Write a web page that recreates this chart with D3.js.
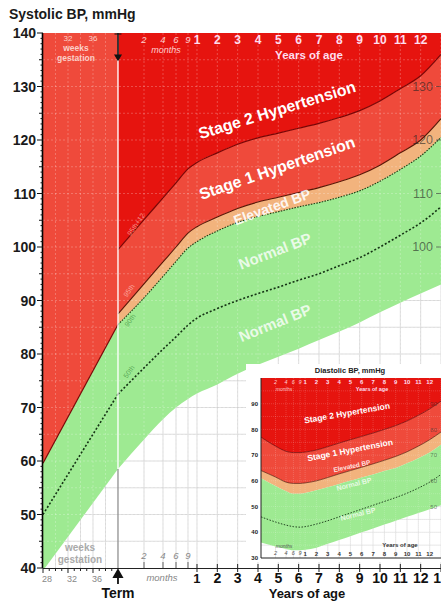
<!DOCTYPE html>
<html><head><meta charset="utf-8">
<script src="https://cdn.jsdelivr.net/npm/d3@7"></script>
<style>body{margin:0;background:#fff}svg{display:block;font-family:"Liberation Sans",Arial,sans-serif}</style>
</head><body><svg id="c" width="441" height="601"></svg>
<script>
// ================= DATA =================
const yTicks = [40,50,60,70,80,90,100,110,120,130,140];
const rightTicks = [100,110,120,130];
const weekLabels = [28,32,36];
const gestWeeks = [28,40];              // weeks gestation → term
const gestUpper = [59.6, 85.5];
const gestMedian = [50, 72.5];
const gestLower = [39.5, 58.5];
// ages after term, in years: term, 2,4,6,9 months, 1..13 years
const ages = [0, 2/12, 4/12, 6/12, 9/12, 1,2,3,4,5,6,7,8,9,10,11,12,13];
const stage2 = [99.5,105.1,109.2,112,114.6,115.8,117.6,119.2,120.4,121.3,122.2,123.1,124.2,125.5,127.3,129.6,132,136];
const p95    = [87.5,93.1,97.2,100,102.6,103.8,105.6,107.2,108.4,109.3,110.2,111.1,112.2,113.5,115.3,117.6,120,124];
const p90    = [85.5,90.5,94.5,97.3,99.8,101,103,104.6,105.7,106.6,107.5,108.3,109.3,110.5,112.3,114.5,117,120.5];
const p50    = [72.5,77.4,80.9,83.2,85.4,86.7,88.5,90,91.3,92.5,93.8,95,96.5,98,100,102.2,104.5,107.5];
const lowerB = [58.5,64,67.8,70,71.6,72.6,74.3,76.3,78,79.5,81,82.6,84.2,85.9,87.8,89.6,91.3,93];
const monthTicks = [2,4,6,9];
const yearTicks = [1,2,3,4,5,6,7,8,9,10,11,12,13];
// inset: diastolic BP
const dTicks = [30,40,50,60,70,80,90];
const dRight = [50,60,70,80,90];
const dStage2 = [77,73.5,71.5,71,71,71.2,72,73.3,74.7,76,77.3,78.6,80,81.5,83.3,85.5,88,91];
const dP95    = [64,61.5,59.5,59,59,59.2,60,61.3,62.7,64,65.3,66.6,68,69.5,71.3,73.5,76,79];
const dP90    = [61,58,56,55,55,55.3,56.3,57.5,58.8,60,61.3,62.5,63.8,65,66.8,68.8,71,74];
const dP50    = [46,44,42.8,42.2,42,42.2,43.2,44.5,46,47.5,49,50.5,52,53.5,55.2,57.2,59.5,62.5];
const dLower  = [36,34.5,33.5,33,33,33.2,34,35.5,37,38.5,40,41.5,43,44.5,46,47.5,49,50.5];

// ================= LAYOUT =================
const C = {s2:"#e6140f", s1:"#ef4a3b", el:"#f2b37d", nm:"#9eea92"};
const svg = d3.select("#c");
const L=43, R=441, T=33, B=568;
const wk = w => (w-40)/52;   // weeks gestation → years after term
const xKnots = [wk(28),0,2/12,4/12,6/12,9/12,1,13];
const xFrac  = [0,.1884,.2538,.3015,.3342,.3643,.3869,1];
const x = d3.scaleLinear().domain(xKnots).range(xFrac.map(f=>L+f*(R-L)));
const y = d3.scaleLinear().domain([40,140]).range([B,T]);

svg.append("clipPath").attr("id","pc").append("rect").attr("x",L).attr("y",T).attr("width",R-L).attr("height",B-T);
const g = svg.append("g").attr("clip-path","url(#pc)");

function grid(sel, color, op, dash){
  const gg = sel.append("g").attr("stroke",color).attr("stroke-opacity",op).attr("stroke-width",0.7).attr("stroke-dasharray",dash);
  d3.range(45,140,5).forEach(v=>gg.append("line").attr("x1",L).attr("x2",R).attr("y1",y(v)).attr("y2",y(v)));
  const xs = [30,32,34,36,38].map(w=>x(wk(w))).concat(monthTicks.map(m=>x(m/12))).concat(yearTicks.map(a=>x(a)));
  xs.forEach(v=>gg.append("line").attr("x1",v).attr("x2",v).attr("y1",T).attr("y2",B));
}
grid(g,"#c8c8c8",1,"none");

const gx = (d,i)=>x(wk(gestWeeks[i]));
const ax = (d,i)=>x(ages[i]);
const mono = d3.curveMonotoneX;
g.append("path").datum(gestUpper).attr("fill",C.s1)
 .attr("d",d3.area().x(gx).y0(y(140)).y1(d=>y(d)));
g.append("path").datum(stage2).attr("fill",C.s2)
 .attr("d",d3.area().x(ax).y0(y(140)).y1(d=>y(d)).curve(mono));
g.append("path").datum(stage2).attr("fill",C.s1)
 .attr("d",d3.area().x(ax).y0((d,i)=>y(p95[i])).y1(d=>y(d)).curve(mono));
g.append("path").datum(p95).attr("fill",C.el)
 .attr("d",d3.area().x(ax).y0((d,i)=>y(p90[i])).y1(d=>y(d)).curve(mono));
g.append("path").datum(p90).attr("fill",C.nm)
 .attr("d",d3.area().x(ax).y0((d,i)=>y(lowerB[i])).y1(d=>y(d)).curve(mono));
g.append("path").datum(gestUpper).attr("fill",C.nm)
 .attr("d",d3.area().x(gx).y0((d,i)=>y(gestLower[i])).y1(d=>y(d)));

const wg = g.append("g");
grid(wg,"#fff",0.35,"2,2");

const lineA = arr => d3.line().x(ax).y(d=>y(d)).curve(mono)(arr);
const lineG = arr => d3.line().x(gx).y(d=>y(d))(arr);
g.append("path").attr("d",lineA(stage2)).attr("fill","none").attr("stroke","#7a0505").attr("stroke-width",1.2);
g.append("path").attr("d",lineA(p95)).attr("fill","none").attr("stroke","#5a1505").attr("stroke-width",1.1);
g.append("path").attr("d",lineA(p90)).attr("fill","none").attr("stroke","#1d3d10").attr("stroke-width",1.1).attr("stroke-dasharray","1.6,1.2");
g.append("path").attr("d",lineG(gestUpper)).attr("fill","none").attr("stroke","#7a0505").attr("stroke-width",1.2);
g.append("path").attr("d",lineA(p50)).attr("fill","none").attr("stroke","#143214").attr("stroke-width",1.6).attr("stroke-dasharray","2,2");
g.append("path").attr("d",lineG(gestMedian)).attr("fill","none").attr("stroke","#143214").attr("stroke-width",1.6).attr("stroke-dasharray","2,2");

g.append("line").attr("x1",x(0)).attr("x2",x(0)).attr("y1",T).attr("y2",y(lowerB[0])).attr("stroke","#fff").attr("stroke-opacity",0.85).attr("stroke-width",1.6);
g.append("line").attr("x1",x(0)).attr("x2",x(0)).attr("y1",y(lowerB[0])).attr("y2",B).attr("stroke","#999").attr("stroke-width",1.4);
const ta = svg.append("g").attr("fill","#111").attr("stroke","#111");
ta.append("line").attr("x1",x(0)).attr("x2",x(0)).attr("y1",T).attr("y2",T+26).attr("stroke-width",1.6);
ta.append("path").attr("d",`M${x(0)-3.5},${T+1}h7M${x(0)-3},${T+22}l3,5l3,-5z`).attr("stroke-width",1.2);

const ann = (t,cx,cy,col,op)=>g.append("text").attr("transform",`translate(${cx},${cy}) rotate(-55)`).attr("font-size",7).attr("fill",col).attr("fill-opacity",op).attr("text-anchor","middle").text(t);
ann("95th+12", x(0)+20, y(stage2[1])+6, "#ffc8c0", .7);
ann("95th", x(0)+13, y(p95[0])-22, "#ffd0c8", .7);
ann("90th", x(0)+14, y(p90[0])-3, "#3a8a3a", .7);
ann("50th", x(0)+13, y(p50[0])-21, "#3a8a3a", .7);

const zl = (t,cx,cy,ang,fs,op)=>g.append("text").attr("transform",`translate(${cx},${cy}) rotate(${ang})`)
  .attr("text-anchor","middle").attr("dy","0.35em").attr("font-weight","bold").attr("font-size",fs)
  .attr("fill","#fff").attr("fill-opacity",op).text(t);
zl("Stage 2 Hypertension",277,110,-17,16,1);
zl("Stage 1 Hypertension",277,168,-19,16,1);
zl("Elevated BP",272,207,-20,14,.9);
zl("Normal BP",275,251,-21,15,.8);
zl("Normal BP",275,323,-22,15,.8);

rightTicks.forEach(v=>{
  svg.append("text").attr("x",433).attr("y",y(v)).attr("dy","0.35em").attr("text-anchor","end").attr("font-size",12.5)
    .attr("fill","#222").attr("fill-opacity",.6).text(v);
  svg.append("line").attr("x1",436).attr("x2",441).attr("y1",y(v)).attr("y2",y(v)).attr("stroke","#333").attr("stroke-opacity",.6);
});

const tl = svg.append("g").attr("fill","#fff").attr("text-anchor","middle");
[32,36].forEach(w=>tl.append("text").attr("x",x(wk(w))).attr("y",40.5).attr("font-size",8).attr("fill","#fbd0c8").text(w));
tl.append("text").attr("x",76).attr("y",51).attr("font-size",8.5).attr("font-weight","bold").attr("fill","#fbd0c8").text("weeks");
tl.append("text").attr("x",76).attr("y",60.5).attr("font-size",8.5).attr("font-weight","bold").attr("fill","#fbd0c8").text("gestation");
monthTicks.forEach(m=>tl.append("text").attr("x",x(m/12)).attr("y",43).attr("font-size",9.5).attr("font-style","italic").attr("fill","#fcc").text(m));
tl.append("text").attr("x",166).attr("y",53).attr("font-size",9).attr("font-style","italic").attr("fill","#fcc").text("months");
yearTicks.slice(0,12).forEach(a=>tl.append("text").attr("x",x(a)).attr("y",44).attr("font-size",12).attr("font-weight","bold").attr("fill","#fde").text(a));
tl.append("text").attr("x",309).attr("y",58.5).attr("font-size",11.5).attr("font-weight","bold").attr("fill","#fde").text("Years of age");

const la = svg.append("g");
la.append("line").attr("x1",L-0.5).attr("x2",L-0.5).attr("y1",T).attr("y2",B).attr("stroke","#000").attr("stroke-width",1.6);
d3.range(40,141,1).forEach(v=>{
  const len = v%10==0?6:(v%5==0?4:2.5);
  la.append("line").attr("x1",L-len).attr("x2",L).attr("y1",y(v)).attr("y2",y(v)).attr("stroke","#111").attr("stroke-width",1);
});
yTicks.forEach(v=>la.append("text").attr("x",36).attr("y",y(v)).attr("dy","0.36em").attr("text-anchor","end")
  .attr("font-size",14).attr("font-weight","bold").attr("fill","#1a1a1a").text(v));
svg.append("text").attr("x",9).attr("y",19).attr("font-size",14).attr("font-weight","bold").attr("fill","#1a1a1a").text("Systolic BP, mmHg");

const ba = svg.append("g");
ba.append("line").attr("x1",L).attr("x2",R).attr("y1",B+0.5).attr("y2",B+0.5).attr("stroke","#222").attr("stroke-width",1.2);
d3.range(28,40,1).forEach(w=>ba.append("line").attr("x1",x(wk(w))).attr("x2",x(wk(w))).attr("y1",B).attr("y2",B+(w%4==0?5:3)).attr("stroke","#222"));
monthTicks.forEach(m=>ba.append("line").attr("x1",x(m/12)).attr("x2",x(m/12)).attr("y1",B-6).attr("y2",B).attr("stroke","#666"));
yearTicks.forEach(a=>ba.append("line").attr("x1",x(a)).attr("x2",x(a)).attr("y1",B-4).attr("y2",B+4).attr("stroke","#222"));
weekLabels.forEach(w=>ba.append("text").attr("x",x(wk(w))+4).attr("y",B+14).attr("text-anchor","middle").attr("font-size",9).attr("fill","#888").text(w));
ba.append("text").attr("x",80).attr("y",B-17).attr("text-anchor","middle").attr("font-size",10).attr("font-weight","bold").attr("fill","#aaa").text("weeks");
ba.append("text").attr("x",80).attr("y",B-5).attr("text-anchor","middle").attr("font-size",10).attr("font-weight","bold").attr("fill","#aaa").text("gestation");
monthTicks.forEach(m=>ba.append("text").attr("x",x(m/12)).attr("y",B-9).attr("text-anchor","middle").attr("font-size",9.5).attr("font-style","italic").attr("fill","#888").text(m));
ba.append("text").attr("x",162).attr("y",B+13).attr("text-anchor","middle").attr("font-size",9.5).attr("font-style","italic").attr("fill","#888").text("months");
yearTicks.forEach(a=>ba.append("text").attr("x",x(a)).attr("y",B+15).attr("text-anchor","middle").attr("font-size",a==1?13:14).attr("font-weight","bold").attr("fill","#111").text(a));
ba.append("text").attr("x",307).attr("y",B+30).attr("text-anchor","middle").attr("font-size",13).attr("font-weight","bold").attr("fill","#111").text("Years of age");
ba.append("text").attr("x",x(0)).attr("y",B+30).attr("text-anchor","middle").attr("font-size",14).attr("font-weight","bold").attr("fill","#111").text("Term");
ba.append("path").attr("d",`M${x(0)},${B+16}V${B+6}M${x(0)-4},${B+9}L${x(0)},${B+2}L${x(0)+4},${B+9}z`).attr("stroke","#111").attr("stroke-width",1.8).attr("fill","#111");

// ================= INSET (diastolic) =================
const iL=261, iR=441, iT=378, iB=558;
svg.append("rect").attr("x",246).attr("y",364).attr("width",195).attr("height",198).attr("fill","#fff");
const ix = d3.scaleLinear().domain([0,2/12,4/12,6/12,9/12,1,13])
  .range([0,.0805,.139,.180,.217,.245,1].map(f=>iL+f*(iR-iL)));
const iy = d3.scaleLinear().domain([30,100]).range([iB,iT]);
svg.append("clipPath").attr("id","ic").append("rect").attr("x",iL).attr("y",iT).attr("width",iR-iL).attr("height",iB-iT);
const ig = svg.append("g").attr("clip-path","url(#ic)");
const iax = (d,i)=>ix(ages[i]);
function igrid(color,op,dash){
  const gg = ig.append("g").attr("stroke",color).attr("stroke-opacity",op).attr("stroke-width",0.5).attr("stroke-dasharray",dash);
  d3.range(35,100,5).forEach(v=>gg.append("line").attr("x1",iL).attr("x2",iR).attr("y1",iy(v)).attr("y2",iy(v)));
  monthTicks.map(m=>m/12).concat(yearTicks).forEach(a=>gg.append("line").attr("x1",ix(a)).attr("x2",ix(a)).attr("y1",iT).attr("y2",iB));
}
igrid("#ccc",1,"none");
ig.append("path").datum(dStage2).attr("fill",C.s2).attr("d",d3.area().x(iax).y0(iy(100)).y1(d=>iy(d)).curve(mono));
ig.append("path").datum(dStage2).attr("fill",C.s1).attr("d",d3.area().x(iax).y0((d,i)=>iy(dP95[i])).y1(d=>iy(d)).curve(mono));
ig.append("path").datum(dP95).attr("fill",C.el).attr("d",d3.area().x(iax).y0((d,i)=>iy(dP90[i])).y1(d=>iy(d)).curve(mono));
ig.append("path").datum(dP90).attr("fill",C.nm).attr("d",d3.area().x(iax).y0((d,i)=>iy(dLower[i])).y1(d=>iy(d)).curve(mono));
igrid("#fff",.35,"1,1");
const ilin = arr => d3.line().x(iax).y(d=>iy(d)).curve(mono)(arr);
ig.append("path").attr("d",ilin(dStage2)).attr("fill","none").attr("stroke","#7a0505").attr("stroke-width",0.8);
ig.append("path").attr("d",ilin(dP95)).attr("fill","none").attr("stroke","#5a1505").attr("stroke-width",0.7);
ig.append("path").attr("d",ilin(dP50)).attr("fill","none").attr("stroke","#143214").attr("stroke-width",0.9).attr("stroke-dasharray","1.5,1.5");
const izl = (t,cx,cy,ang,fs,op)=>ig.append("text").attr("transform",`translate(${cx},${cy}) rotate(${ang})`)
  .attr("text-anchor","middle").attr("dy","0.35em").attr("font-weight","bold").attr("font-size",fs).attr("fill","#fff").attr("fill-opacity",op).text(t);
izl("Stage 2 Hypertension",347,413,-10,8.5,1);
izl("Stage 1 Hypertension",350,450,-11,8.5,1);
izl("Elevated BP",352,466,-12,6.5,.85);
izl("Normal BP",354,484,-14,7,.75);
izl("Normal BP",358,514,-14,7,.75);
svg.append("line").attr("x1",iL).attr("x2",iL).attr("y1",iT).attr("y2",iB).attr("stroke","#222").attr("stroke-width",1);
svg.append("line").attr("x1",iL).attr("x2",iR).attr("y1",iB).attr("y2",iB).attr("stroke","#222").attr("stroke-width",1);
dTicks.forEach(v=>svg.append("text").attr("x",iL-3).attr("y",iy(v)).attr("dy","0.35em").attr("text-anchor","end").attr("font-size",6).attr("font-weight","bold").attr("fill","#222").text(v));
dRight.forEach(v=>svg.append("text").attr("x",437).attr("y",iy(v)).attr("dy","0.35em").attr("text-anchor","end").attr("font-size",6).attr("fill","#333").attr("fill-opacity",.6).text(v));
svg.append("text").attr("x",350).attr("y",373).attr("text-anchor","middle").attr("font-size",7.5).attr("font-weight","bold").attr("fill","#222").text("Diastolic BP, mmHg");
monthTicks.forEach(m=>{
  svg.append("text").attr("x",ix(m/12)).attr("y",iT+6).attr("text-anchor","middle").attr("font-size",5.5).attr("font-style","italic").attr("fill","#fcc").text(m);
  svg.append("text").attr("x",ix(m/12)).attr("y",iB-3).attr("text-anchor","middle").attr("font-size",5.5).attr("font-style","italic").attr("fill","#555").text(m);
});
yearTicks.slice(0,12).forEach(a=>{
  svg.append("text").attr("x",ix(a)).attr("y",iT+6).attr("text-anchor","middle").attr("font-size",6).attr("font-weight","bold").attr("fill","#fde").text(a);
  svg.append("text").attr("x",ix(a)).attr("y",iB-2.5).attr("text-anchor","middle").attr("font-size",6).attr("font-weight","bold").attr("fill","#333").text(a);
});
svg.append("text").attr("x",284).attr("y",iT+13).attr("text-anchor","middle").attr("font-size",5).attr("font-style","italic").attr("fill","#fcc").text("months");
svg.append("text").attr("x",372).attr("y",iT+13).attr("text-anchor","middle").attr("font-size",5.5).attr("font-weight","bold").attr("fill","#fde").text("Years of age");
svg.append("text").attr("x",400).attr("y",iB-11).attr("text-anchor","middle").attr("font-size",6).attr("font-weight","bold").attr("fill","#333").text("Years of age");
svg.append("text").attr("x",284).attr("y",iB-10).attr("text-anchor","middle").attr("font-size",5).attr("font-style","italic").attr("fill","#555").text("months");
</script></body></html>
